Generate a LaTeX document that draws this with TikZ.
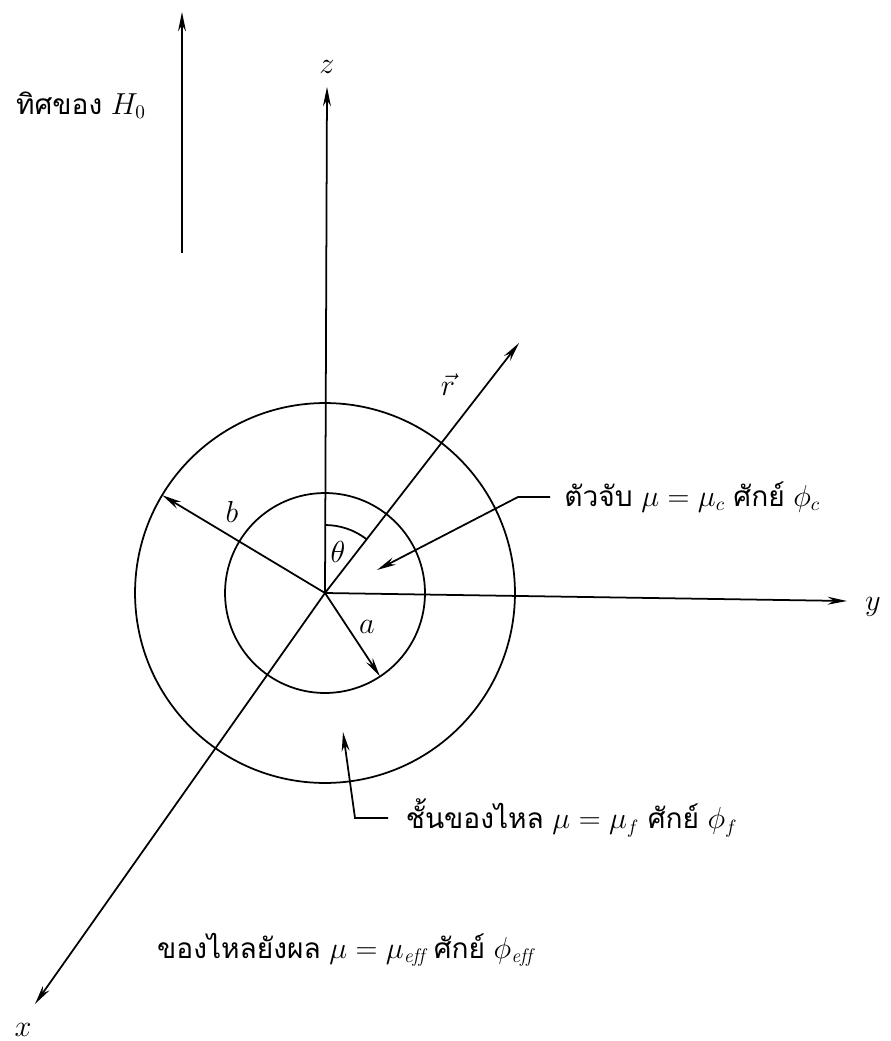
\documentclass[tikz,border=0pt]{standalone}
\usepackage{amsmath}
\usepackage{fontspec}
\newfontfamily\thaifont[Script=Thai]{Loma}
\usepackage{tikz}
\usetikzlibrary{arrows.meta, positioning}
\tikzstyle{arrow} = [line width=1pt, -{Stealth[length=11pt, width=4.5pt]}]
\tikzstyle{line} = [line width=1pt]
\tikzstyle{txt} = [font=\fontsize{16}{19}\selectfont, inner sep=2pt]

\begin{document}
\begin{tikzpicture}[x=0.02cm, y=-0.02cm]
    \useasboundingbox (0,0) rectangle (891,1041);

    % Origen y puntas
    \coordinate (O) at (325,593);
    \coordinate (ztip) at (327,87);
    \coordinate (ytip) at (847,601);
    \coordinate (xtip) at (35,1004);
    \coordinate (rtip) at (519,343);
    \coordinate (htop) at (182,12);
    \coordinate (hbot) at (182,253);
    \coordinate (bend) at ([shift={(149:3.8cm)}]O);
    \coordinate (aend) at ([shift={(-56.6:2cm)}]O);
    \coordinate (thstart) at ([shift={(90:1.36cm)}]O);

    % Esferas
    \draw [line] (O) circle [radius=2cm];
    \draw [line] (O) circle [radius=3.8cm];

    % Ejes
    \draw [arrow] (O) -- (ztip);
    \draw [arrow] (O) -- (ytip);
    \draw [arrow] (O) -- (xtip);
    \draw [arrow] (O) -- (rtip);
    \draw [arrow] (hbot) -- (htop);
    \node (zlab) [txt, above=0.2cm of ztip] {$z$};
    \node (ylab) [txt] at (873,607) {$y$};
    \node (xlab) [txt] at (23,1030) {$x$};
    \node (rlab) [txt] at (448,385) {$\vec{r}$};
    \node (hlab) [txt] at (81,105) {{\thaifont ทิศของ} $H_0$};

    % Radios y angulo
    \draw [arrow] (O) -- (bend);
    \draw [arrow] (O) -- (aend);
    \draw [line] (thstart) arc [start angle=90, end angle=52.2, radius=1.36cm];
    \node (blab) [txt] at (232,512) {$b$};
    \node (alab) [txt] at (367,627) {$a$};
    \node (thlab) [txt] at (338,552) {$\theta$};

    % Rotulos de regiones
    \coordinate (celb) at (518,497);
    \coordinate (ctip) at (377,570);
    \node (corelab) [txt, anchor=west, inner xsep=8pt] at (550,497) {{\thaifont ตัวจับ} $\mu = \mu_c$ {\thaifont ศักย์} $\phi_c$};
    \draw [arrow] (corelab.west) -- (celb) -- (ctip);

    \coordinate (felb) at (355,818);
    \coordinate (ftip) at (343,732);
    \node (fluidlab) [txt, anchor=west, inner xsep=10pt] at (388,818) {{\thaifont ชั้นของไหล} $\mu = \mu_f$ {\thaifont ศักย์} $\phi_f$};
    \draw [arrow] (fluidlab.west) -- (felb) -- (ftip);

    \node (efflab) [txt] at (345,950) {{\thaifont ของไหลยังผล} $\mu = \mu_{\mathit{eff}}$ {\thaifont ศักย์} $\phi_{\mathit{eff}}$};
\end{tikzpicture}
\end{document}
